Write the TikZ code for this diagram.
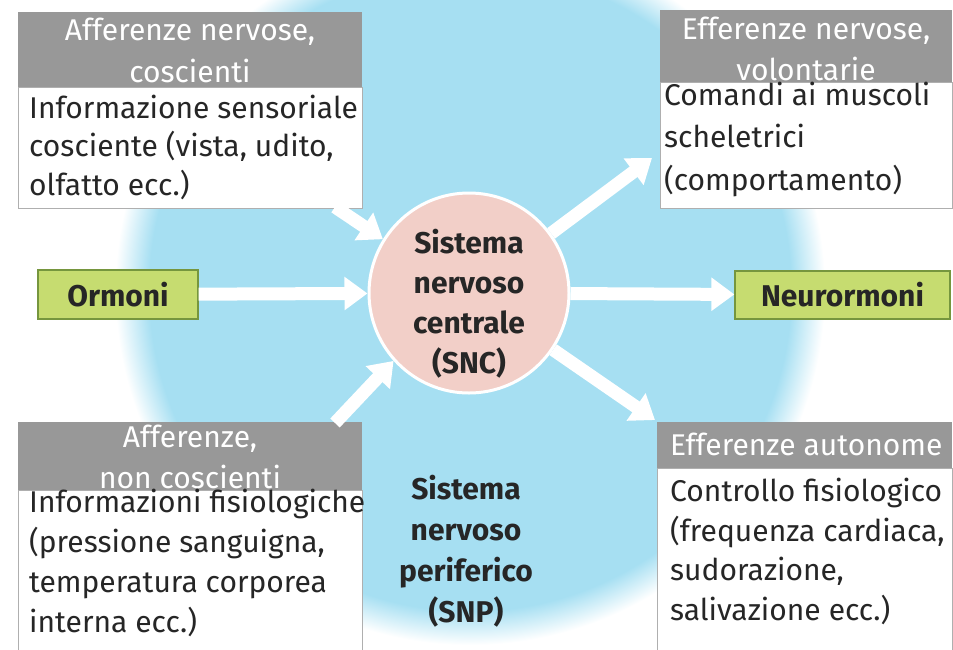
\documentclass[tikz,border=0pt]{standalone}
\usepackage{fontspec}
\setmainfont{Fira Sans}
\usetikzlibrary{arrows.meta}
\definecolor{bgblue}{RGB}{166,223,242}
\definecolor{hdrgray}{RGB}{152,152,152}
\definecolor{bordergray}{RGB}{175,175,175}
\definecolor{snccol}{RGB}{242,207,200}
\definecolor{greenfill}{RGB}{198,220,112}
\definecolor{greenline}{RGB}{118,150,62}
\definecolor{txtdark}{RGB}{38,38,38}
\pgfdeclareradialshading{blob}{\pgfpoint{0bp}{0bp}}{color(0bp)=(bgblue); color(22.6bp)=(bgblue); color(25bp)=(white); color(50bp)=(white)}
\begin{document}
\begin{tikzpicture}[x=1pt,y=-1pt,
  bigarrow/.style={draw=white, line width=13pt, -{Triangle[width=32pt,length=23pt]}},
  hdrbox/.style={fill=hdrgray, draw=none, inner sep=0pt, anchor=north west},
  bodybox/.style={fill=white, draw=bordergray, line width=1pt, inner sep=0pt, anchor=north west},
  hdrtxt/.style={text=white, align=center, inner sep=0pt, anchor=base},
  bodytxt/.style={text=txtdark, align=left, inner sep=0pt, anchor=base west},
  greenbox/.style={fill=greenfill, draw=greenline, line width=1.2pt, inner sep=0pt, font=\fontsize{30pt}{36pt}\selectfont\bfseries, text=txtdark},
  boldtxt/.style={text=txtdark, align=center, inner sep=0pt, anchor=base}
]
\useasboundingbox (0,0) rectangle (953,649);
\clip (0,0) rectangle (953,649);
\fill[white] (0,0) rectangle (953,649);
\shade[shading=blob] (470,290) circle [radius=355pt];

% central node
\node[circle, minimum size=200pt, fill=snccol, draw=white, line width=3pt, inner sep=0pt] (snc) at (469,293) {};

% green boxes
\node[greenbox, minimum width=160pt, minimum height=49pt] (ormoni) at (118,294.5) {Ormoni};
\node[greenbox, minimum width=215pt, minimum height=48pt] (neuro) at (842.5,295) {Neurormoni};

% boxes top-left
\node[hdrbox, minimum width=344pt, minimum height=75pt] (tlh) at (18,12) {};
\node[bodybox, minimum width=344pt, minimum height=121pt] (tlb) at (18,87) {};
% boxes top-right
\node[hdrbox, minimum width=292pt, minimum height=72pt] (trh) at (660,10) {};
\node[bodybox, minimum width=292pt, minimum height=126pt] (trb) at (660,82) {};
% boxes bottom-left
\node[hdrbox, minimum width=344pt, minimum height=68pt] (blh) at (18,422) {};
\node[bodybox, minimum width=344pt, minimum height=170pt] (blb) at (18,490) {};
% boxes bottom-right
\node[hdrbox, minimum width=295pt, minimum height=46pt] (brh) at (657,422) {};
\node[bodybox, minimum width=295pt, minimum height=192pt] (brb) at (657,468) {};

% arrows
\coordinate (tlstart) at (335,207);
\coordinate (blstart) at (335,423);
\coordinate (trend) at (652,158);
\coordinate (brend) at (655,420);
\draw[bigarrow] (tlstart) -- (snc.148);
\draw[bigarrow] (blstart) -- (snc.222);
\draw[bigarrow] (snc.36) -- (trend);
\draw[bigarrow] (snc.-34) -- (brend);
\draw[bigarrow] (ormoni) -- (snc);
\draw[bigarrow] (snc) -- (neuro);

% texts (anchor = baseline of the last line)
\node[hdrtxt, font=\fontsize{30pt}{42pt}\selectfont] (tlht) at (190,82) {Afferenze nervose,\\coscienti};
\node[bodytxt, font=\fontsize{30pt}{38.5pt}\selectfont] (tlbt) at (29,195) {Informazione sensoriale\\cosciente (vista, udito,\\olfatto ecc.)};

\node[hdrtxt, font=\fontsize{30pt}{41pt}\selectfont] (trht) at (806,80) {Efferenze nervose,\\volontarie};
\node[bodytxt, font=\fontsize{30pt}{42.5pt}\selectfont] (trbt) at (664,190) {Comandi ai muscoli\\scheletrici\\(comportamento)};

\node[hdrtxt, font=\fontsize{30pt}{41pt}\selectfont] (blht) at (190,488) {Afferenze,\\non coscienti};
\node[bodytxt, font=\fontsize{30pt}{40pt}\selectfont] (blbt) at (29,632) {Informazioni fisiologiche\\(pressione sanguigna,\\temperatura corporea\\interna ecc.)};

\node[text=white, inner sep=0pt, anchor=base west, font=\fontsize{30pt}{36pt}\selectfont] (brht) at (670,455) {Efferenze autonome};
\node[bodytxt, font=\fontsize{30pt}{39.5pt}\selectfont] (brbt) at (670,620) {Controllo fisiologico\\(frequenza cardiaca,\\sudorazione,\\salivazione ecc.)};

\node[boldtxt, font=\fontsize{30pt}{40pt}\selectfont\bfseries] (snct) at (469,373) {Sistema\\nervoso\\centrale\\(SNC)};
\node[boldtxt, font=\fontsize{30pt}{41pt}\selectfont\bfseries] (snpt) at (466,622) {Sistema\\nervoso\\periferico\\(SNP)};
\end{tikzpicture}
\end{document}
